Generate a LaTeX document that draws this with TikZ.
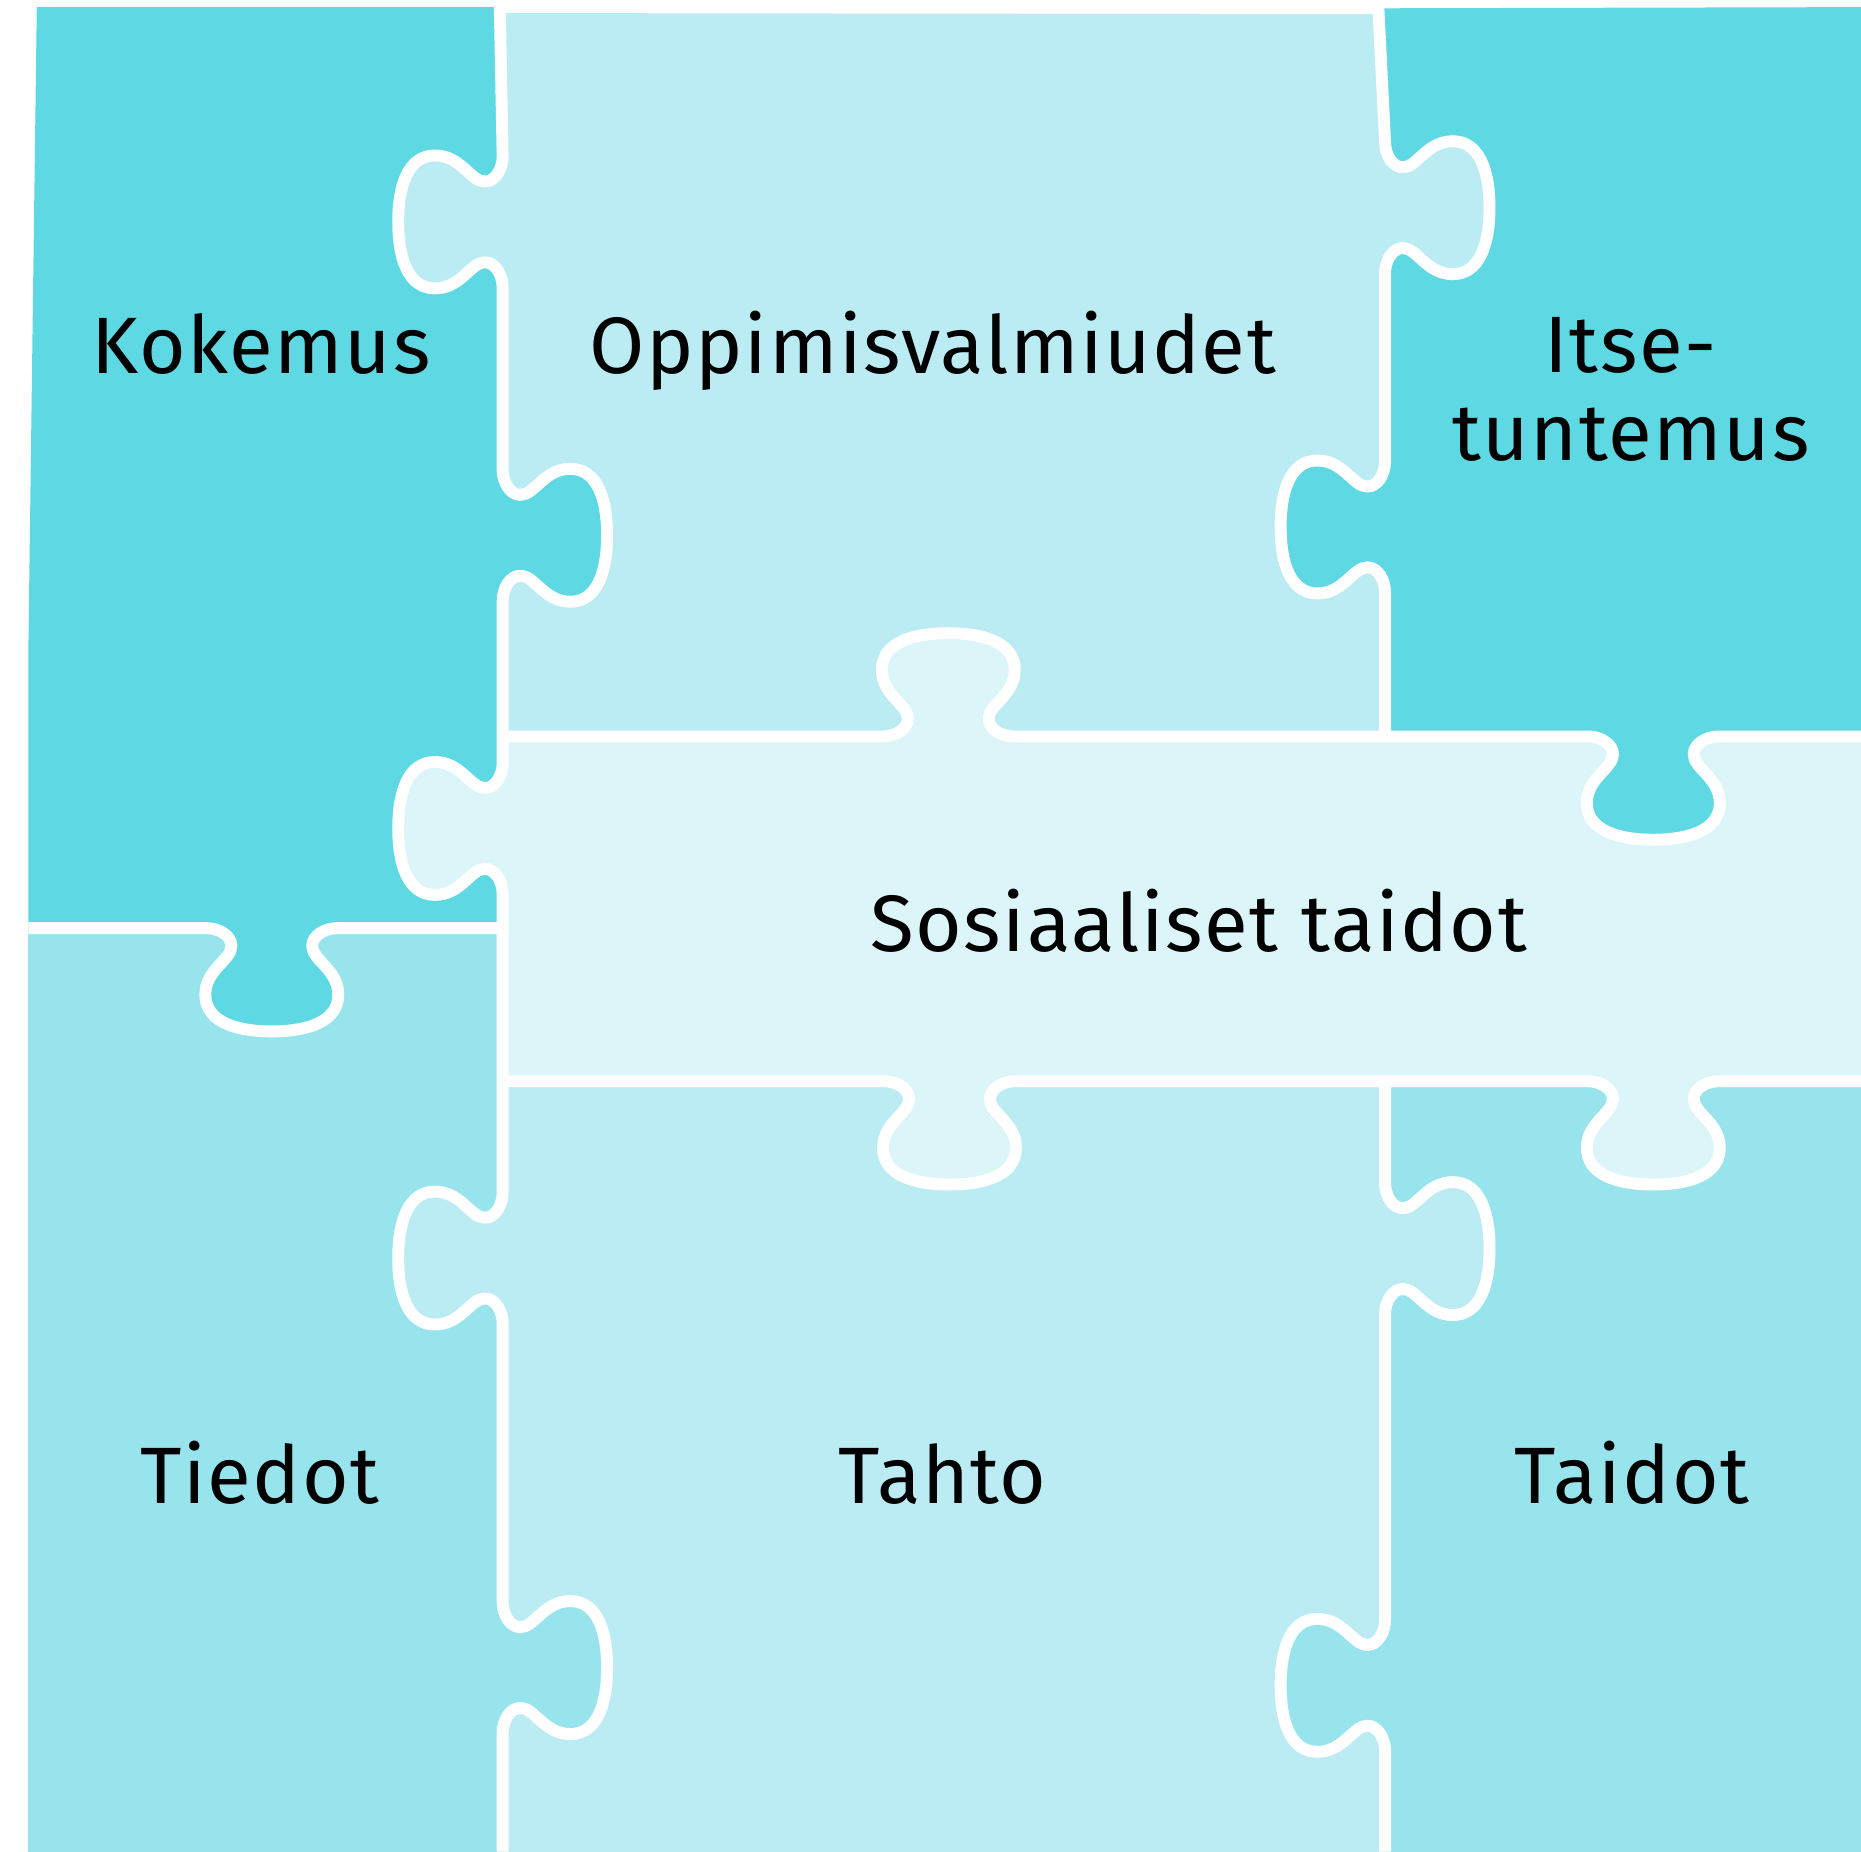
\documentclass[tikz,border=0pt]{standalone}
\usepackage{fontspec}
\setmainfont{Fira Sans}[LetterSpace=2]
\definecolor{kok}{HTML}{5ED8E3}
\definecolor{opp}{HTML}{BCECF3}
\definecolor{sos}{HTML}{DBF5F8}
\definecolor{tie}{HTML}{97E4ED}
% vertical edge knob: #1 line x, #2 centre y, #3 direction (+1 right, -1 left); path runs downward
\newcommand\kV[3]{({#1},{#2-55}) .. controls ({#1},{#2-45}) and ({#1+(#3)*6},{#2-34}) .. ({#1+(#3)*15},{#2-34})
 .. controls ({#1+(#3)*27},{#2-34}) and ({#1+(#3)*35},{#2-56}) .. ({#1+(#3)*57},{#2-56})
 .. controls ({#1+(#3)*80},{#2-56}) and ({#1+(#3)*88},{#2-30}) .. ({#1+(#3)*88},{#2})
 .. controls ({#1+(#3)*88},{#2+30}) and ({#1+(#3)*80},{#2+56}) .. ({#1+(#3)*57},{#2+56})
 .. controls ({#1+(#3)*35},{#2+56}) and ({#1+(#3)*27},{#2+34}) .. ({#1+(#3)*15},{#2+34})
 .. controls ({#1+(#3)*6},{#2+34}) and ({#1},{#2+45}) .. ({#1},{#2+55})}
% horizontal edge knob: #1 line y, #2 centre x, #3 direction (+1 down, -1 up); path runs rightward
\newcommand\kH[3]{({#2-55},{#1}) .. controls ({#2-45},{#1}) and ({#2-34},{#1+(#3)*6}) .. ({#2-34},{#1+(#3)*15})
 .. controls ({#2-34},{#1+(#3)*27}) and ({#2-56},{#1+(#3)*35}) .. ({#2-56},{#1+(#3)*56})
 .. controls ({#2-56},{#1+(#3)*79}) and ({#2-30},{#1+(#3)*87}) .. ({#2},{#1+(#3)*87})
 .. controls ({#2+30},{#1+(#3)*87}) and ({#2+56},{#1+(#3)*79}) .. ({#2+56},{#1+(#3)*56})
 .. controls ({#2+56},{#1+(#3)*35}) and ({#2+34},{#1+(#3)*27}) .. ({#2+34},{#1+(#3)*15})
 .. controls ({#2+34},{#1+(#3)*6}) and ({#2+45},{#1}) .. ({#2+55},{#1})}
% filled tabs, overlapping a little into the owner's side to avoid seams
\newcommand\tabV[4]{\fill[#4] \kV{#1}{#2}{#3} -- ({#1-(#3)*5},{#2+55}) -- ({#1-(#3)*5},{#2-55}) -- cycle;}
\newcommand\tabH[4]{\fill[#4] \kH{#1}{#2}{#3} -- ({#2+55},{#1-(#3)*5}) -- ({#2-55},{#1-(#3)*5}) -- cycle;}
\begin{document}
\begin{tikzpicture}[x=1.1869pt,y=-1.1869pt,
  edge/.style={draw=white,line width=11.9pt,line join=round},
  lbl/.style={font=\fontsize{80}{88.2}\selectfont,text=black,inner sep=0pt}]
\useasboundingbox[fill=white] (0,0) rectangle (1568,1560);
% piece bodies
\fill[kok] (31,6) -- (421,6) -- (423.5,782) -- (24,782) -- (24,540) -- cycle;
\fill[opp] (421,11) -- (1161,12) -- (1167,620.5) -- (423.5,620.5) -- cycle;
\fill[kok] (1161,7) -- (1568,6) -- (1568,620.5) -- (1167,620.5) -- cycle;
\fill[sos] (423.5,620.5) rectangle (1568,911);
\fill[tie] (24,782) rectangle (423.5,1560);
\fill[opp] (423.5,911) rectangle (1167,1560);
\fill[tie] (1167,911) rectangle (1568,1560);
% tabs
\tabV{423.5}{187}{-1}{opp}
\tabV{423.5}{451}{1}{kok}
\tabV{423.5}{698}{-1}{sos}
\tabV{423.5}{1060}{-1}{opp}
\tabV{423.5}{1405}{1}{tie}
\tabV{1167}{175}{1}{opp}
\tabV{1167}{444}{-1}{kok}
\tabV{1167}{1052}{1}{opp}
\tabV{1167}{1420}{-1}{tie}
\tabH{782}{229}{1}{kok}
\tabH{620.5}{799}{-1}{sos}
\tabH{620.5}{1393}{1}{kok}
\tabH{911}{800}{1}{sos}
\tabH{911}{1393}{1}{sos}
% seams
\draw[edge] (421,0) -- \kV{423.5}{187}{-1} -- \kV{423.5}{451}{1} -- \kV{423.5}{698}{-1}
  -- \kV{423.5}{1060}{-1} -- \kV{423.5}{1405}{1} -- (423.5,1560);
\draw[edge] (1161,0) -- \kV{1167}{175}{1} -- \kV{1167}{444}{-1} -- (1167,620.5);
\draw[edge] (1167,911) -- \kV{1167}{1052}{1} -- \kV{1167}{1420}{-1} -- (1167,1560);
\draw[edge] (24,782) -- \kH{782}{229}{1} -- (423.5,782);
\draw[edge] (423.5,620.5) -- \kH{620.5}{799}{-1} -- \kH{620.5}{1393}{1} -- (1568,620.5);
\draw[edge] (423.5,911) -- \kH{911}{800}{1} -- \kH{911}{1393}{1} -- (1568,911);
% labels
\node[lbl,anchor=base] (kokemus) at (220,314.8) {Kokemus};
\node[lbl,anchor=base] (oppimis) at (786,314.8) {Oppimisvalmiudet};
\node[lbl,align=center] (itse) at (1374,328) {Itse-\\tuntemus};
\node[lbl,anchor=base] (sosiaaliset) at (1010,801.8) {Sosiaaliset taidot};
\node[lbl,anchor=base] (tiedot) at (219,1267) {Tiedot};
\node[lbl,anchor=base] (tahto) at (794,1267) {Tahto};
\node[lbl,anchor=base] (taidot) at (1375,1267) {Taidot};
\end{tikzpicture}
\end{document}
